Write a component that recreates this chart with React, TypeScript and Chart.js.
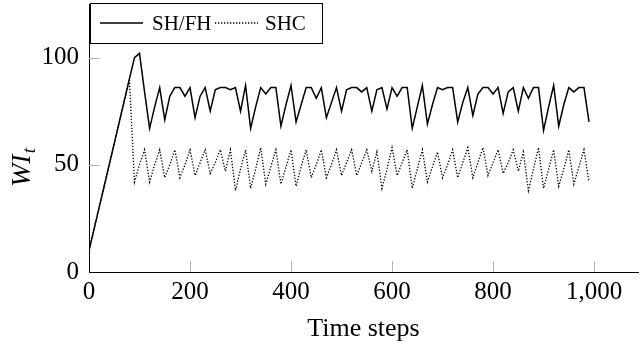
import React, { useEffect, useRef } from "react";
import { Chart, registerables } from "chart.js";

Chart.register(...registerables);

const timeSteps = [
  0, 10, 20, 30, 40, 50, 60, 70, 80, 90,
  100, 110, 120, 130, 140, 150, 160, 170, 180, 190,
  200, 210, 220, 230, 240, 250, 260, 270, 280, 290,
  300, 310, 320, 330, 340, 350, 360, 370, 380, 390,
  400, 410, 420, 430, 440, 450, 460, 470, 480, 490,
  500, 510, 520, 530, 540, 550, 560, 570, 580, 590,
  600, 610, 620, 630, 640, 650, 660, 670, 680, 690,
  700, 710, 720, 730, 740, 750, 760, 770, 780, 790,
  800, 810, 820, 830, 840, 850, 860, 870, 880, 890,
  900, 910, 920, 930, 940, 950, 960, 970, 980, 990,
];

const shfhValues = [
  10, 20, 30, 40, 50, 60, 70, 80, 90, 100,
  102, 84, 67, 77, 86, 71, 82, 86, 86, 82,
  86, 72, 82, 86, 75, 85, 86, 86, 85, 86,
  75, 87, 67, 77, 86, 83, 86, 86, 68, 78,
  87, 70, 78, 86, 86, 81, 86, 72, 79, 86,
  75, 85, 86, 86, 84, 86, 75, 85, 86, 76,
  86, 82, 86, 86, 67, 77, 87, 69, 78, 86,
  85, 86, 86, 70, 79, 86, 73, 83, 86, 86,
  83, 86, 74, 84, 86, 75, 86, 81, 86, 86,
  66, 77, 87, 68, 78, 86, 84, 86, 86, 70,
];

const shcValues = [
  10, 20, 30, 40, 50, 60, 70, 80, 90, 42,
  50, 57, 42, 50, 57, 44, 50, 57, 44, 50,
  57, 45, 51, 57, 46, 51, 57, 47, 57, 38,
  48, 57, 39, 48, 58, 41, 49, 57, 41, 49,
  57, 40, 49, 57, 44, 50, 57, 44, 50, 57,
  45, 51, 57, 45, 51, 57, 47, 56, 39, 48,
  58, 45, 51, 57, 39, 48, 57, 42, 49, 56,
  44, 50, 57, 44, 51, 58, 44, 51, 58, 45,
  51, 57, 46, 51, 57, 47, 56, 38, 48, 58,
  39, 48, 57, 40, 48, 57, 41, 49, 57, 42,
];

const seriesLabels = ["SH/FH", "SHC"];
const xTickValues = [0, 200, 400, 600, 800, 1000];
const yTickValues = [0, 50, 100];
const xTitle = "Time steps";
const yTitleMain = "WI";
const yTitleSub = "t";

const FONT = "'Liberation Serif', 'Times New Roman', serif";

export default function App() {
  const canvasRef = useRef<HTMLCanvasElement | null>(null);

  useEffect(() => {
    const canvas = canvasRef.current;
    if (!canvas) return;

    const innerTicks = {
      id: "innerTicks",
      beforeDatasetsDraw(chart: any) {
        const { ctx, chartArea, scales } = chart;
        ctx.save();
        ctx.strokeStyle = "#b4b4b4";
        ctx.lineWidth = 1;
        ctx.beginPath();
        for (const v of xTickValues) {
          if (v === 0) continue;
          const px = Math.round(scales.x.getPixelForValue(v)) + 0.5;
          ctx.moveTo(px, chartArea.bottom);
          ctx.lineTo(px, chartArea.bottom - 11);
        }
        for (const v of yTickValues) {
          if (v === 0) continue;
          const py = Math.round(scales.y.getPixelForValue(v)) + 0.5;
          ctx.moveTo(chartArea.left, py);
          ctx.lineTo(chartArea.left + 11, py);
        }
        ctx.stroke();
        ctx.restore();
      },
    };

    const yTitle = {
      id: "yTitle",
      afterDraw(chart: any) {
        const { ctx } = chart;
        const cy = 168;
        ctx.save();
        ctx.translate(0, cy);
        ctx.rotate(-Math.PI / 2);
        ctx.fillStyle = "#000";
        ctx.textBaseline = "alphabetic";
        ctx.textAlign = "left";
        ctx.font = `italic 28px ${FONT}`;
        const w1 = ctx.measureText(yTitleMain).width;
        ctx.font = `italic 19px ${FONT}`;
        const w2 = ctx.measureText(yTitleSub).width;
        const total = w1 + w2;
        ctx.font = `italic 28px ${FONT}`;
        ctx.fillText(yTitleMain, -total / 2, 30);
        ctx.font = `italic 19px ${FONT}`;
        ctx.fillText(yTitleSub, -total / 2 + w1 + 1, 35);
        ctx.restore();
      },
    };

    const boxLegend = {
      id: "boxLegend",
      afterDraw(chart: any) {
        const { ctx, chartArea } = chart;
        const x0 = chartArea.left + 1;
        const y0 = 3;
        const w = 232;
        const h = 40;
        ctx.save();
        ctx.fillStyle = "#fff";
        ctx.fillRect(x0, y0, w, h);
        ctx.strokeStyle = "#000";
        ctx.lineWidth = 1;
        ctx.strokeRect(x0 + 0.5, y0 + 0.5, w, h);
        const ly = y0 + 20;
        ctx.font = `21px ${FONT}`;
        ctx.fillStyle = "#000";
        ctx.textBaseline = "alphabetic";
        ctx.lineWidth = 1.4;
        ctx.setLineDash([]);
        ctx.beginPath();
        ctx.moveTo(x0 + 10, ly);
        ctx.lineTo(x0 + 53, ly);
        ctx.stroke();
        ctx.fillText(seriesLabels[0], x0 + 62, ly + 7);
        ctx.lineWidth = 1.3;
        ctx.setLineDash([1.3, 1.7]);
        ctx.beginPath();
        ctx.moveTo(x0 + 125, ly);
        ctx.lineTo(x0 + 168, ly);
        ctx.stroke();
        ctx.setLineDash([]);
        ctx.fillText(seriesLabels[1], x0 + 175, ly + 7);
        ctx.restore();
      },
    };

    const chart = new Chart(canvas, {
      type: "line",
      data: {
        datasets: [
          {
            label: seriesLabels[0],
            data: timeSteps.map((t, i) => ({ x: t, y: shfhValues[i] })),
            borderColor: "#000",
            borderWidth: 1.5,
            pointRadius: 0,
            tension: 0,
            fill: false,
          },
          {
            label: seriesLabels[1],
            data: timeSteps.map((t, i) => ({ x: t, y: shcValues[i] })),
            borderColor: "#000",
            borderWidth: 1.3,
            borderDash: [1.3, 1.7],
            pointRadius: 0,
            tension: 0,
            fill: false,
          },
        ],
      },
      options: {
        animation: false,
        responsive: false,
        maintainAspectRatio: false,
        layout: { padding: { left: 0, right: 2, top: 4, bottom: 0 } },
        plugins: {
          legend: { display: false },
          tooltip: { enabled: false },
        },
        scales: {
          x: {
            type: "linear",
            min: 0,
            max: 1087,
            afterBuildTicks: (s: any) => {
              s.ticks = xTickValues.map((v) => ({ value: v }));
            },
            afterFit: (s: any) => {
              s.height = 75;
              s.paddingLeft = 0;
              s.paddingRight = 0;
            },
            grid: { display: false, drawTicks: false },
            border: { display: true, color: "#000", width: 1 },
            ticks: {
              color: "#000",
              font: { family: FONT, size: 25 },
              padding: 5,
              maxRotation: 0,
              autoSkip: false,
              callback: (v: any) => Number(v).toLocaleString("en-US"),
            },
            title: {
              display: true,
              text: xTitle,
              color: "#000",
              font: { family: FONT, size: 26 },
              padding: { top: 0, bottom: 2 },
            },
          },
          y: {
            type: "linear",
            min: 0,
            max: 125,
            afterBuildTicks: (s: any) => {
              s.ticks = yTickValues.map((v) => ({ value: v }));
            },
            afterFit: (s: any) => {
              s.width = 89;
              s.paddingTop = 0;
              s.paddingBottom = 0;
            },
            grid: { display: false, drawTicks: false },
            border: { display: true, color: "#000", width: 1 },
            ticks: {
              color: "#000",
              font: { family: FONT, size: 25 },
              padding: 10,
            },
          },
        },
      },
      plugins: [innerTicks, yTitle, boxLegend],
    });

    return () => {
      chart.destroy();
    };
  }, []);

  return (
    <div style={{ position: "fixed", left: 0, top: 0, width: 640, height: 347, background: "#fff" }}>
      <canvas ref={canvasRef} width={640} height={347} style={{ display: "block" }} />
    </div>
  );
}
